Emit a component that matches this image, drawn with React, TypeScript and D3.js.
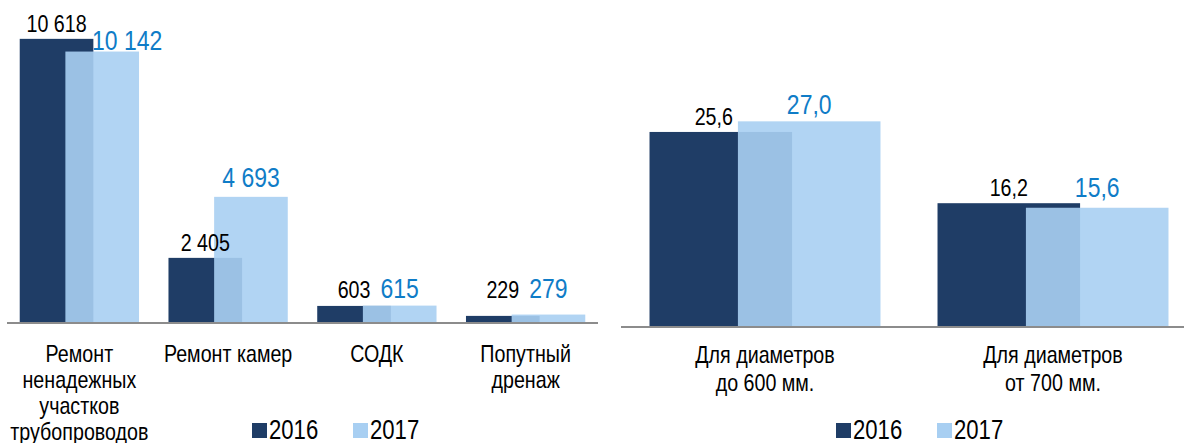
import React from 'react';
import * as d3 from 'd3';

// data
const years = ['2016', '2017'];

const leftCategories = [
  ['Ремонт', 'ненадежных', 'участков', 'трубопроводов'],
  ['Ремонт камер'],
  ['СОДК'],
  ['Попутный', 'дренаж'],
];
const left2016 = [10618, 2405, 603, 229];
const left2017 = [10142, 4693, 615, 279];

const rightCategories = [
  ['Для диаметров', 'до 600 мм.'],
  ['Для диаметров', 'от 700 мм.'],
];
const right2016 = [25.6, 16.2];
const right2017 = [27.0, 15.6];

const W = 1184;
const H = 443;
const FONT = '"Liberation Sans", Arial, sans-serif';
const NARROW = 0.82; // no Arial Narrow installed, squeeze Liberation Sans instead
const DARK = '#1f3d66';
const LIGHT = 'rgb(168,207,242)';
const BLUE_TEXT = '#0f7cc7';
const AXIS = '#8c8c8c';

const ru = d3.formatLocale({ decimal: ',', thousands: '\u00a0', grouping: [3], currency: ['', ''] });
const fmtInt = ru.format(',d');
const fmtDec = ru.format(',.1f');

function NText(props: { x: number; y: number; size: number; fill: string; anchor?: string; children: React.ReactNode }) {
  return (
    <text
      transform={`translate(${props.x},${props.y}) scale(${NARROW},1)`}
      textAnchor={props.anchor || 'middle'}
      fontSize={props.size}
      fill={props.fill}
    >
      {props.children}
    </text>
  );
}

type PanelProps = {
  categories: string[][];
  a: number[];
  b: number[];
  x0: number;
  x1: number;
  axisY: number;
  axisX0: number;
  axisX1: number;
  yMax: number;
  yTop: number;
  fmt: (v: number) => string;
  lineHeight: number;
  labelY: number;
  minLabelBase?: number;
  nudges: Record<string, [number, number]>;
  legendX: number;
};

function Panel(p: PanelProps) {
  const x = d3.scaleBand<number>().domain(d3.range(p.categories.length)).range([p.x0, p.x1]);
  const y = d3.scaleLinear().domain([0, p.yMax]).range([p.axisY, p.yTop]);
  const step = x.step();
  const bw = step / 2.02;
  const off = bw * 0.62;
  const groupW = bw + off;

  const bars = (vals: number[], s: number) =>
    vals.map((v, i) => {
      const cx = (x(i) as number) + step / 2;
      const left = cx - groupW / 2 + s * off;
      return { i, v, left, top: y(v), cx: left + bw / 2 };
    });
  const barsA = bars(p.a, 0);
  const barsB = bars(p.b, 1);

  const label = (d: { i: number; v: number; top: number; cx: number }, s: number) => {
    const [dx, dy] = p.nudges[`${s}-${d.i}`] || [0, 0];
    let base = d.top - 7;
    if (p.minLabelBase !== undefined) base = Math.min(base, p.minLabelBase);
    return (
      <NText key={`l${s}-${d.i}`} x={d.cx + dx} y={base + dy} size={s === 0 ? 24 : 28} fill={s === 0 ? '#000' : BLUE_TEXT}>
        {p.fmt(d.v)}
      </NText>
    );
  };

  return (
    <g fontFamily={FONT}>
      {barsA.map((d) => (
        <rect key={`a${d.i}`} x={d.left} y={d.top} width={bw} height={p.axisY + 2 - d.top} fill={DARK} />
      ))}
      {barsB.map((d) => (
        <rect
          key={`b${d.i}`}
          x={d.left}
          y={d.top}
          width={bw}
          height={p.axisY + 1 - d.top}
          fill={LIGHT}
          fillOpacity={0.9}
        />
      ))}
      <line x1={p.axisX0} x2={p.axisX1} y1={p.axisY + 1} y2={p.axisY + 1} stroke={AXIS} strokeWidth={2} />
      {barsA.map((d) => label(d, 0))}
      {barsB.map((d) => label(d, 1))}
      {p.categories.map((lines, i) =>
        lines.map((t, j) => (
          <NText
            key={`c${i}-${j}`}
            x={(x(i) as number) + step / 2}
            y={p.labelY + j * p.lineHeight}
            size={24}
            fill="#000"
          >
            {t}
          </NText>
        ))
      )}
      <g transform={`translate(${p.legendX},0)`}>
        {years.map((yr, k) => (
          <g key={yr} transform={`translate(${k * 101},0)`}>
            <rect x={0} y={423} width={15} height={15} fill={k === 0 ? DARK : LIGHT} />
            <NText x={17} y={439} size={27} fill="#000" anchor="start">
              {yr}
            </NText>
          </g>
        ))}
      </g>
    </g>
  );
}

export default function App() {
  return (
    <svg
      width={W}
      height={H}
      viewBox={`0 0 ${W} ${H}`}
      style={{ position: 'absolute', left: 0, top: 0, background: '#fff' }}
    >
      <Panel
        categories={leftCategories}
        a={left2016}
        b={left2017}
        x0={5}
        x1={600}
        axisY={322}
        axisX0={7}
        axisX1={598}
        yMax={12000}
        yTop={2}
        fmt={fmtInt}
        lineHeight={26}
        labelY={362}
        minLabelBase={298}
        nudges={{ '1-0': [25, 5], '1-1': [0, -3] }}
        legendX={252}
      />
      <Panel
        categories={rightCategories}
        a={right2016}
        b={right2017}
        x0={621}
        x1={1197}
        axisY={326}
        axisX0={621}
        axisX1={1184}
        yMax={30}
        yTop={98.6}
        fmt={fmtDec}
        lineHeight={28}
        labelY={363}
        nudges={{ '0-0': [-7, 0], '1-1': [0, -4] }}
        legendX={836}
      />
    </svg>
  );
}
